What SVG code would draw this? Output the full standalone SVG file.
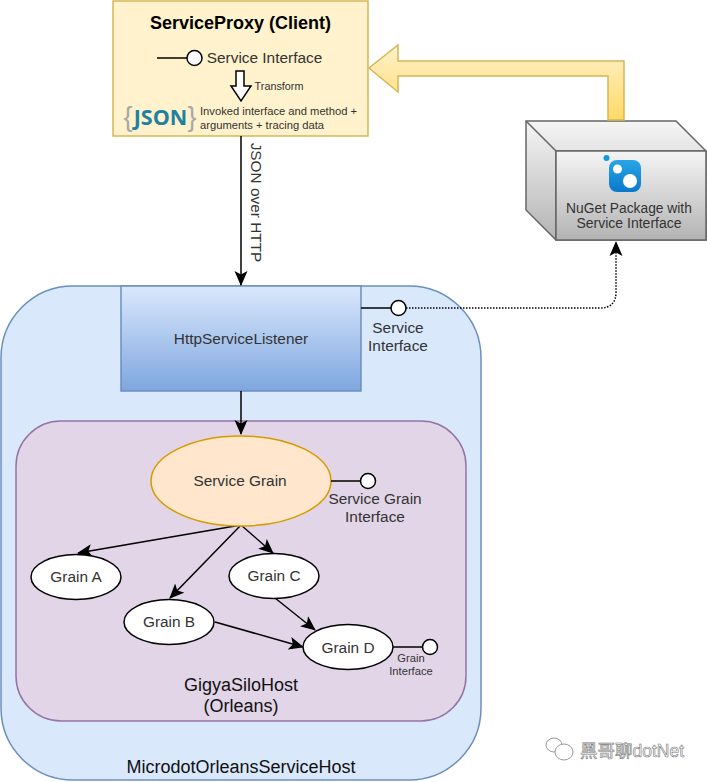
<svg xmlns="http://www.w3.org/2000/svg" width="707" height="782" viewBox="0 0 707 782">
<style>
text{font-family:"Liberation Sans",Arial,sans-serif;fill:#333;text-anchor:middle}
.e{fill:#fff;stroke:#000;stroke-width:1.5}
.c{fill:none;stroke:#000;stroke-width:1.5}
.t{font-size:15.4px}
.l{font-size:18px;fill:#111}
</style>
<defs>
<marker id="a" markerUnits="userSpaceOnUse" markerWidth="16" markerHeight="14" refX="14" refY="7" orient="auto"><path d="M0 0.500L15 7L0 13.500L3.500 7Z" fill="#000"/></marker>
<linearGradient id="yg" gradientUnits="userSpaceOnUse" x1="0" y1="45" x2="0" y2="120"><stop offset="0" stop-color="#fff2cc"/><stop offset="1" stop-color="#ffd966"/></linearGradient>
<linearGradient id="gg" x1="0" y1="0" x2="0" y2="1"><stop offset="0" stop-color="#f5f5f5"/><stop offset="1" stop-color="#b3b3b3"/></linearGradient>
<linearGradient id="bg" x1="0" y1="0" x2="0" y2="1"><stop offset="0" stop-color="#dae8fc"/><stop offset="1" stop-color="#7ea6e0"/></linearGradient>
<linearGradient id="ng" x1="0" y1="0" x2="0" y2="1"><stop offset="0" stop-color="#29a5e6"/><stop offset="1" stop-color="#0a78cc"/></linearGradient>
</defs>

<g id="microdot-host"><rect x="1" y="286" width="480" height="494" rx="72" ry="72" fill="#dae8fc" stroke="#6c8ebf" stroke-width="1.500"/>
<text x="241" y="773" class="l">MicrodotOrleansServiceHost</text></g>

<g id="gigya-host"><rect x="16" y="421" width="450" height="300" rx="45" ry="45" fill="#e1d5e7" stroke="#9673a6" stroke-width="1.500"/>
<text x="241" y="691" class="l">GigyaSiloHost</text><text x="241" y="712" class="l">(Orleans)</text></g>

<g id="service-proxy"><rect x="113" y="1" width="255" height="135" fill="#fff2cc" stroke="#d6b656" stroke-width="1.500"/>
<text x="240.500" y="29" style="font-size:18px;font-weight:bold;fill:#000">ServiceProxy (Client)</text>
<path d="M157 58H187" class="c"/><circle cx="194.500" cy="58" r="7.500" class="e"/>
<text x="264.500" y="63" class="t">Service Interface</text>
<path d="M236 71H244V86H251L241 101L231 86H236Z" fill="#fff" stroke="#000" stroke-width="1.500"/>
<text x="279" y="90" style="font-size:10.800px">Transform</text>
<text x="128" y="126" style="font-size:27px;fill:#a8a8a8">{</text>
<text x="160.500" y="125" style="font-size:21.500px;font-weight:bold;fill:#21809f;font-family:'Open Sans','Liberation Sans',sans-serif">JSON</text>
<text x="192" y="126" style="font-size:27px;fill:#a8a8a8">}</text>
<text x="200" y="115" style="font-size:11.200px;text-anchor:start">Invoked interface and method +</text>
<text x="200" y="129" style="font-size:11.200px;text-anchor:start">arguments + tracing data</text></g>

<g id="nuget-package"><path d="M526 121H676L706 151V240H556L526 210Z" fill="url(#gg)" stroke="#666" stroke-width="1.500"/>
<path d="M526 121L556 151H706M556 151V240" fill="none" stroke="#666" stroke-width="1.500"/>
<rect x="556" y="151" width="150" height="89" fill="url(#gg)" stroke="#666" stroke-width="1.500"/>
<circle cx="606.500" cy="158" r="3" fill="#0f9bdc"/>
<rect x="609" y="160" width="32" height="32" rx="8" fill="url(#ng)"/>
<circle cx="617.500" cy="169" r="4.500" fill="#fff"/><circle cx="630" cy="181" r="7" fill="#fff"/>
<text x="629" y="213" style="font-size:13.800px">NuGet Package with</text><text x="629" y="228" style="font-size:14px">Service Interface</text></g>

<g id="http-service-listener"><rect x="121" y="286" width="240" height="105" fill="url(#bg)" stroke="#6c8ebf" stroke-width="1.500"/>
<text x="241" y="344" class="t">HttpServiceListener</text></g>

<g id="connectors">
<path d="M608 120V76H398V92L369 68L398 45V61H624V120Z" fill="url(#yg)" stroke="#d6b656" stroke-width="1.500"/>
<path d="M241 136V285" class="c" marker-end="url(#a)"/>
<text transform="translate(250.500 202.500) rotate(90)" class="t">JSON over HTTP</text>
<path d="M241 391V434" class="c" marker-end="url(#a)"/>
<path d="M406 308H600Q616 308 616 292V242" fill="none" stroke="#000" stroke-width="1.500" stroke-dasharray="1.500 1.500" marker-end="url(#a)"/>
<path d="M241 525L78 553" class="c" marker-end="url(#a)"/>
<path d="M241 525L170 598" class="c" marker-end="url(#a)"/>
<path d="M241 525L273 553" class="c" marker-end="url(#a)"/>
<path d="M275 598L315 630" class="c" marker-end="url(#a)"/>
<path d="M215 622L303 647" class="c" marker-end="url(#a)"/>
</g>

<g id="service-interface"><path d="M361 308H391" class="c"/><circle cx="398.500" cy="308" r="7.500" class="e"/>
<text x="398" y="333" class="t">Service</text><text x="398" y="351" class="t">Interface</text></g>

<g id="service-grain"><ellipse cx="241" cy="481" rx="90" ry="45" fill="#ffe6cc" stroke="#d79b00" stroke-width="1.500"/>
<text x="240" y="486" class="t">Service Grain</text>
<path d="M331 481H361" class="c"/><circle cx="368" cy="481" r="7.500" class="e"/>
<text x="375" y="504" class="t">Service Grain</text><text x="375" y="522" class="t">Interface</text></g>

<g id="grain-a"><ellipse cx="76" cy="577" rx="45" ry="22.500" class="e"/><text x="76" y="582" class="t">Grain A</text></g>
<g id="grain-b"><ellipse cx="169" cy="622" rx="45" ry="22.500" class="e"/><text x="169" y="627" class="t">Grain B</text></g>
<g id="grain-c"><ellipse cx="274" cy="576" rx="45" ry="22.500" class="e"/><text x="274" y="581" class="t">Grain C</text></g>
<g id="grain-d"><ellipse cx="348" cy="647" rx="45" ry="22.500" class="e"/><text x="348" y="653" class="t">Grain D</text>
<path d="M393 647H423" class="c"/><circle cx="430" cy="647" r="7.500" class="e"/>
<text x="411" y="662" style="font-size:11.200px">Grain</text><text x="411" y="675" style="font-size:11.200px">Interface</text></g>

<g id="watermark"><g fill="#fff" stroke="#999" stroke-width="1"><ellipse cx="554" cy="745" rx="8" ry="7"/><ellipse cx="564" cy="752" rx="9" ry="8"/></g>
<text x="580" y="757" style="font-size:17.500px;text-anchor:start;fill:#fff;stroke:#777;stroke-width:.6;font-family:'Liberation Sans','Noto Sans CJK SC',sans-serif">黑哥聊dotNet</text></g>
</svg>
